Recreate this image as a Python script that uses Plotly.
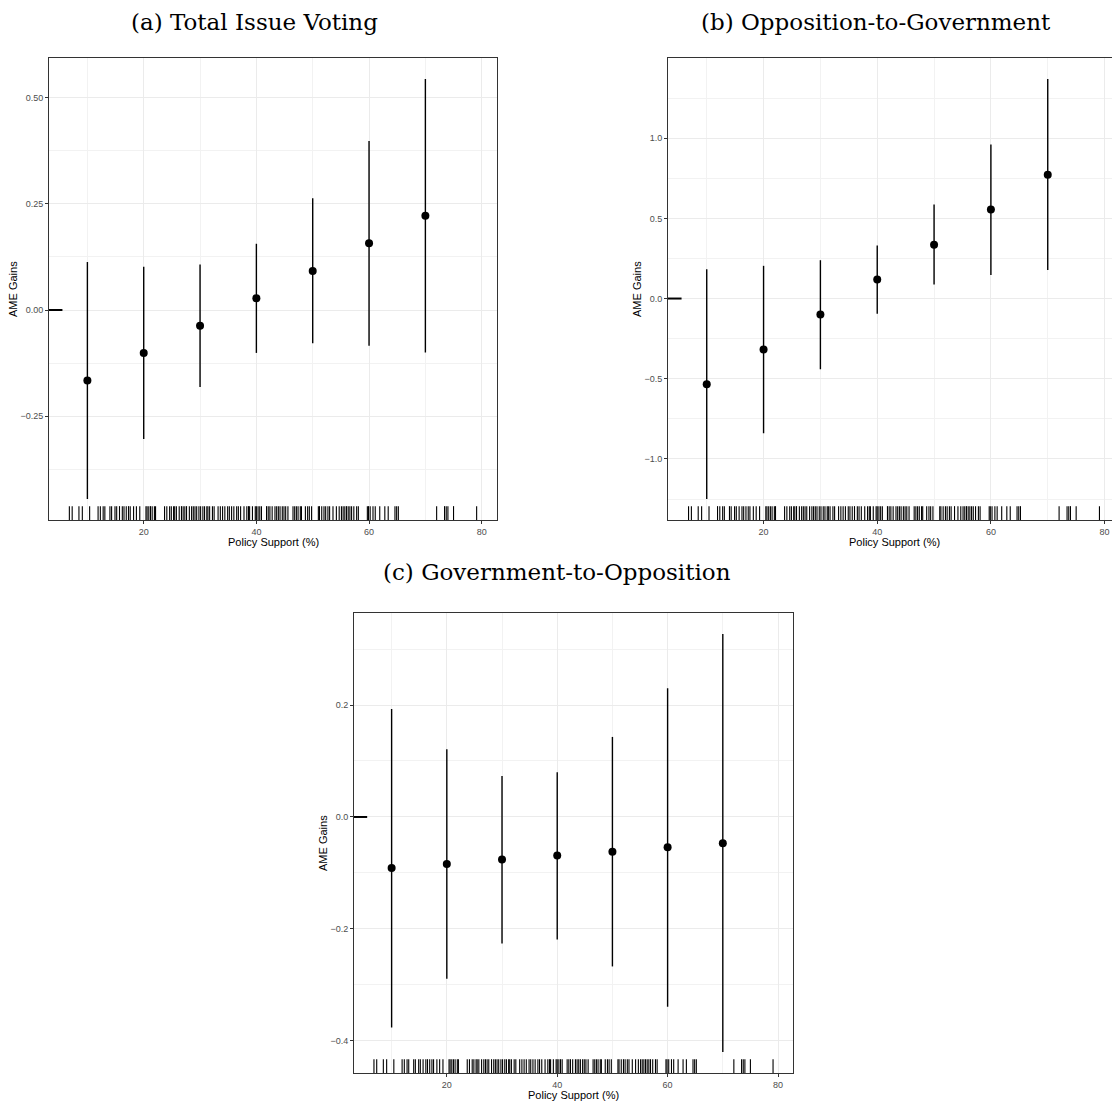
import plotly.graph_objects as go

# ---------------- data ----------------
support_levels = [10, 20, 30, 40, 50, 60, 70]

a_est = [-0.166, -0.101, -0.037, 0.028, 0.092, 0.157, 0.222]
a_lo = [-0.445, -0.304, -0.181, -0.101, -0.078, -0.084, -0.100]
a_hi = [0.113, 0.102, 0.107, 0.156, 0.263, 0.398, 0.544]

b_est = [-0.535, -0.318, -0.099, 0.118, 0.336, 0.555, 0.772]
b_lo = [-1.250, -0.840, -0.441, -0.095, 0.088, 0.147, 0.178]
b_hi = [0.182, 0.204, 0.239, 0.331, 0.586, 0.961, 1.369]

c_est = [-0.091, -0.084, -0.076, -0.069, -0.062, -0.054, -0.047]
c_lo = [-0.376, -0.289, -0.226, -0.219, -0.267, -0.339, -0.420]
c_hi = [0.193, 0.121, 0.073, 0.080, 0.143, 0.230, 0.327]

# observed policy support values (rug)
rug_support = [6.8, 7.3, 8.5, 9.1, 10.4, 11.9, 12.3, 12.8, 13.1, 14.0, 14.3, 14.9,
               15.2, 15.7, 16.2, 16.5, 16.9, 17.3, 17.6, 18.2, 18.7, 19.3, 20.4, 20.6,
               20.9, 21.2, 21.5, 21.9, 22.1, 23.7, 24.1, 24.6, 24.9, 25.3, 25.5, 25.8,
               26.3, 26.7, 27.0, 27.3, 27.6, 28.1, 28.5, 28.8, 29.1, 29.4, 29.8, 30.1,
               30.5, 30.8, 31.2, 31.4, 31.7, 32.2, 32.5, 33.2, 33.6, 34.0, 34.4, 34.9,
               35.2, 35.6, 36.0, 36.5, 36.8, 37.2, 37.8, 38.3, 38.6, 38.8, 39.3, 39.8,
               40.0, 40.3, 40.6, 40.9, 41.8, 42.1, 42.4, 42.8, 43.3, 43.6, 43.9, 44.2,
               44.6, 44.9, 45.2, 45.6, 46.5, 46.8, 47.1, 47.4, 47.8, 48.0, 48.7, 49.1,
               49.4, 49.8, 51.0, 51.2, 51.6, 52.0, 52.3, 52.7, 53.0, 53.6, 54.2, 54.7,
               55.1, 55.4, 55.7, 56.0, 56.3, 56.6, 56.9, 57.3, 57.8, 58.1, 59.7, 59.9,
               60.2, 60.7, 61.1, 61.9, 62.8, 63.4, 64.6, 64.9, 65.2, 72.0, 73.4, 73.7,
               74.0, 75.0, 79.1]
rug_gain = [0.0] * len(rug_support)

x_ticks = [20, 40, 60, 80]
x_minor = [10, 30, 50, 70]

a_yticks = [-0.25, 0.0, 0.25, 0.50]
a_ylabels = ["\u22120.25", "0.00", "0.25", "0.50"]
a_yminor = [-0.375, -0.125, 0.125, 0.375]

b_yticks = [-1.0, -0.5, 0.0, 0.5, 1.0]
b_ylabels = ["\u22121.0", "\u22120.5", "0.0", "0.5", "1.0"]
b_yminor = [-1.25, -0.75, -0.25, 0.25, 0.75, 1.25]

c_yticks = [-0.4, -0.2, 0.0, 0.2]
c_ylabels = ["\u22120.4", "\u22120.2", "0.0", "0.2"]
c_yminor = [-0.3, -0.1, 0.1, 0.3]

titles = ["(a) Total Issue Voting", "(b) Opposition-to-Government", "(c) Government-to-Opposition"]
x_title = "Policy Support (%)"
y_title = "AME Gains"

# ---------------- layout helpers ----------------
OFF = 8                      # page body margin
W, H = 1120 - OFF, 1105 - OFF


def px_x(p):
    return (p - OFF) / W


def px_y(p):
    return 1 - (p - OFF) / H


def expand(lo, hi, f=0.05):
    d = (hi - lo) * f
    return [lo - d, hi + d]


all_x = rug_support + support_levels
x_range = expand(min(all_x), max(all_x))

panels = [
    dict(est=a_est, lo=a_lo, hi=a_hi, yt=a_yticks, yl=a_ylabels, ym=a_yminor,
         xdom=[px_x(49), px_x(497)], ydom=[px_y(520), px_y(58)],
         title_xy=(254, 8, "top"), ytitle_xy=(13, 289), xtitle_xy=(273, 542)),
    dict(est=b_est, lo=b_lo, hi=b_hi, yt=b_yticks, yl=b_ylabels, ym=b_yminor,
         xdom=[px_x(668), 1.0], ydom=[px_y(520), px_y(58)],
         title_xy=(876, 8, "top"), ytitle_xy=(637, 289), xtitle_xy=(894, 542)),
    dict(est=c_est, lo=c_lo, hi=c_hi, yt=c_yticks, yl=c_ylabels, ym=c_yminor,
         xdom=[px_x(354), px_x(793)], ydom=[px_y(1073), px_y(613)],
         title_xy=(557, 572, "middle"), ytitle_xy=(323, 843), xtitle_xy=(573, 1095)),
]

fig = go.Figure()
annotations = []
layout_axes = {}

for i, p in enumerate(panels):
    n = "" if i == 0 else str(i + 1)
    xa, ya = "x" + n, "y" + n
    y_range = expand(min(p["lo"]), max(p["hi"]))
    yspan = y_range[1] - y_range[0]
    xspan = x_range[1] - x_range[0]

    # rug along bottom
    rx, ry = [], []
    for v in rug_support:
        rx += [v, v, None]
        ry += [y_range[0], y_range[0] + 0.03 * yspan, None]
    fig.add_trace(go.Scatter(x=rx, y=ry, mode="lines", xaxis=xa, yaxis=ya,
                             line=dict(color="black", width=1.1),
                             hoverinfo="skip", showlegend=False))
    # rug along left side (all gains at 0)
    lx, ly = [], []
    for g in sorted(set(rug_gain)):
        lx += [x_range[0], x_range[0] + 0.03 * xspan, None]
        ly += [g, g, None]
    fig.add_trace(go.Scatter(x=lx, y=ly, mode="lines", xaxis=xa, yaxis=ya,
                             line=dict(color="black", width=2),
                             hoverinfo="skip", showlegend=False))

    # estimates with intervals
    up = [h - e for h, e in zip(p["hi"], p["est"])]
    dn = [e - l for e, l in zip(p["est"], p["lo"])]
    fig.add_trace(go.Scatter(
        x=support_levels, y=p["est"], mode="markers", xaxis=xa, yaxis=ya,
        marker=dict(color="black", size=8),
        error_y=dict(type="data", array=up, arrayminus=dn, symmetric=False,
                     width=0, thickness=1.4, color="black"),
        showlegend=False))

    common = dict(showline=True, mirror=True, linecolor="#333333", linewidth=1,
                  showgrid=True, gridcolor="#EBEBEB", gridwidth=1,
                  zeroline=False, ticks="outside", ticklen=3, tickcolor="#333333",
                  tickfont=dict(family="Liberation Sans, Arial, sans-serif", size=9,
                                color="#4D4D4D"))
    layout_axes["xaxis" + n] = dict(
        common, domain=p["xdom"], range=x_range, anchor=ya,
        tickmode="array", tickvals=x_ticks, ticktext=[str(t) for t in x_ticks],
        minor=dict(tickvals=x_minor, showgrid=True, gridcolor="#F2F2F2", gridwidth=1, ticks=""))
    layout_axes["yaxis" + n] = dict(
        common, domain=p["ydom"], range=y_range, anchor=xa,
        tickmode="array", tickvals=p["yt"], ticktext=p["yl"],
        minor=dict(tickvals=p["ym"], showgrid=True, gridcolor="#F2F2F2", gridwidth=1, ticks=""))

    tx, ty, tanchor = p["title_xy"]
    annotations.append(dict(text=titles[i], x=px_x(tx), y=px_y(ty), xref="paper", yref="paper",
                            showarrow=False, xanchor="center", yanchor=tanchor, borderpad=0,
                            font=dict(family="DejaVu Serif, serif", size=23, color="black")))
    yx, yy = p["ytitle_xy"]
    annotations.append(dict(text=y_title, x=px_x(yx), y=px_y(yy), xref="paper", yref="paper",
                            showarrow=False, xanchor="center", yanchor="middle", textangle=-90,
                            font=dict(family="Liberation Sans, Arial, sans-serif", size=11,
                                      color="black")))
    xx, xy = p["xtitle_xy"]
    annotations.append(dict(text=x_title, x=px_x(xx), y=px_y(xy), xref="paper", yref="paper",
                            showarrow=False, xanchor="center", yanchor="middle",
                            font=dict(family="Liberation Sans, Arial, sans-serif", size=11,
                                      color="black")))

fig.update_layout(
    width=W, height=H, margin=dict(l=0, r=0, t=0, b=0),
    paper_bgcolor="white", plot_bgcolor="white",
    showlegend=False, annotations=annotations, **layout_axes)

fig.write_html("out.html")
